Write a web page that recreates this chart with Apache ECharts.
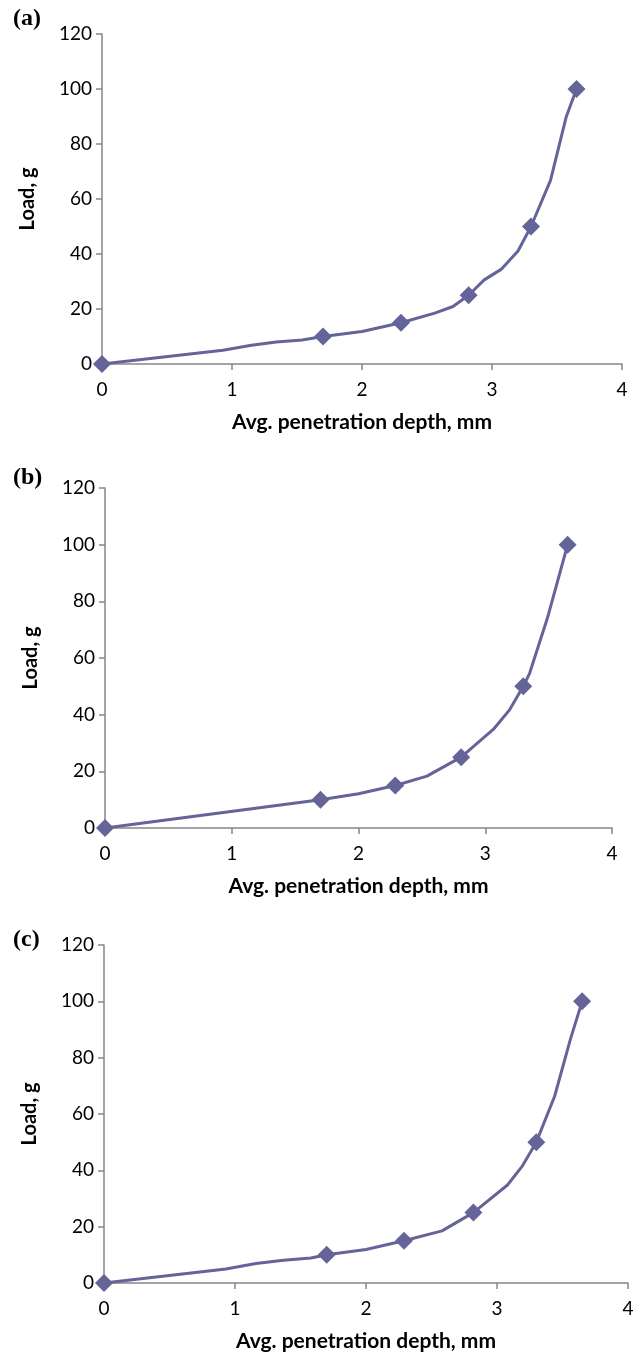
<!DOCTYPE html>
<html>
<head>
<meta charset="utf-8">
<title>Load vs penetration depth</title>
<script src="https://cdn.jsdelivr.net/npm/echarts@6/dist/echarts.min.js"></script>
<style>
  html, body { margin: 0; padding: 0; background: #fff; }
  #chart { width: 641px; height: 1355px; }
</style>
</head>
<body>
<div id="chart"></div>
<script>
/* ---------------------------------- Data ---------------------------------- */
const panelLabels = ['(a)', '(b)', '(c)'];
const xTicks = [0, 1, 2, 3, 4];
const yTicks = [0, 20, 40, 60, 80, 100, 120];

// measured points (diamonds)
const markA_x = [0, 1.70, 2.30, 2.82, 3.30, 3.65];
const markA_y = [0, 10, 15, 25, 50, 100];
const markB_x = [0, 1.70, 2.29, 2.81, 3.30, 3.65];
const markB_y = [0, 10, 15, 25, 50, 100];
const markC_x = [0, 1.70, 2.29, 2.82, 3.30, 3.65];
const markC_y = [0, 10, 15, 25, 50, 100];

// fitted curve
const curveA_x = [0, 0.93, 1.15, 1.34, 1.54, 1.70, 2.00, 2.30, 2.56, 2.70, 2.82, 2.94, 3.07, 3.20, 3.30, 3.45, 3.57, 3.65];
const curveA_y = [0, 5.0, 6.8, 8.0, 8.7, 10, 11.8, 15, 18.5, 20.9, 25, 30.6, 34.4, 41.1, 50, 66.8, 89.7, 100];
const curveB_x = [0, 1.70, 2.00, 2.29, 2.54, 2.81, 3.07, 3.19, 3.30, 3.35, 3.49, 3.65];
const curveB_y = [0, 10, 12.1, 15, 18.3, 25, 35.1, 41.6, 50, 54.6, 74, 100];
const curveC_x = [0, 0.93, 1.16, 1.37, 1.58, 1.70, 2.00, 2.29, 2.58, 2.82, 3.08, 3.19, 3.30, 3.44, 3.56, 3.65];
const curveC_y = [0, 5.0, 6.9, 8.1, 8.9, 10, 11.9, 15, 18.5, 25, 34.8, 41.3, 50, 66.3, 86.5, 100];

/* --------------------------------- Layout --------------------------------- */
const grids = [
  { left: 102, top: 34, width: 520, height: 330 },
  { left: 105, top: 488, width: 507, height: 340 },
  { left: 104, top: 945, width: 524, height: 338 }
];
const labelTops = [7, 466, 928];

const AXIS = '#868686';
const LINE = '#646499';
const FONT = 'Lato, "Open Sans", sans-serif';

const zip = (xs, ys) => xs.map((x, i) => [x, ys[i]]);
const curves = [zip(curveA_x, curveA_y), zip(curveB_x, curveB_y), zip(curveC_x, curveC_y)];
const marks = [zip(markA_x, markA_y), zip(markB_x, markB_y), zip(markC_x, markC_y)];

const xAxisFor = i => ({
  type: 'value',
  gridIndex: i,
  min: xTicks[0],
  max: xTicks[xTicks.length - 1],
  interval: 1,
  name: 'Avg. penetration depth, mm',
  nameLocation: 'middle',
  nameGap: 48,
  nameTextStyle: { color: '#000', fontFamily: FONT, fontWeight: 'bold', fontSize: 21 },
  axisLine: { lineStyle: { color: AXIS, width: 1.5 } },
  axisTick: { show: true, length: 6, lineStyle: { color: AXIS, width: 1.5 } },
  axisLabel: { color: '#000', fontFamily: FONT, fontSize: 19, margin: 16 },
  splitLine: { show: false }
});

const yAxisFor = i => ({
  type: 'value',
  gridIndex: i,
  min: yTicks[0],
  max: yTicks[yTicks.length - 1],
  interval: 20,
  name: 'Load, g',
  nameLocation: 'middle',
  nameGap: 64,
  nameTextStyle: { color: '#000', fontFamily: FONT, fontWeight: 'bold', fontSize: 20 },
  axisLine: { lineStyle: { color: AXIS, width: 1.5 } },
  axisTick: { show: true, length: 6, lineStyle: { color: AXIS, width: 1.5 } },
  axisLabel: { color: '#000', fontFamily: FONT, fontSize: 19, margin: 10 },
  splitLine: { show: false }
});

const series = [];
[0, 1, 2].forEach(i => {
  series.push({
    type: 'line',
    xAxisIndex: i,
    yAxisIndex: i,
    data: curves[i],
    smooth: false,
    showSymbol: false,
    symbol: 'none',
    lineStyle: { color: LINE, width: 3, join: 'round', cap: 'round' },
    z: 2
  });
  series.push({
    type: 'scatter',
    xAxisIndex: i,
    yAxisIndex: i,
    data: marks[i],
    symbol: 'diamond',
    symbolSize: [18, 18],
    itemStyle: { color: LINE, opacity: 1 },
    clip: false,
    z: 3
  });
});

const chart = echarts.init(document.getElementById('chart'));
chart.setOption({
  animation: false,
  backgroundColor: '#fff',
  title: panelLabels.map((t, i) => ({
    text: t,
    left: 13,
    top: labelTops[i],
    padding: 0,
    textStyle: { fontFamily: '"Liberation Serif", "DejaVu Serif", serif', fontWeight: 'bold', fontSize: 24, color: '#000' }
  })),
  grid: grids,
  xAxis: [0, 1, 2].map(xAxisFor),
  yAxis: [0, 1, 2].map(yAxisFor),
  series
});
</script>
</body>
</html>
